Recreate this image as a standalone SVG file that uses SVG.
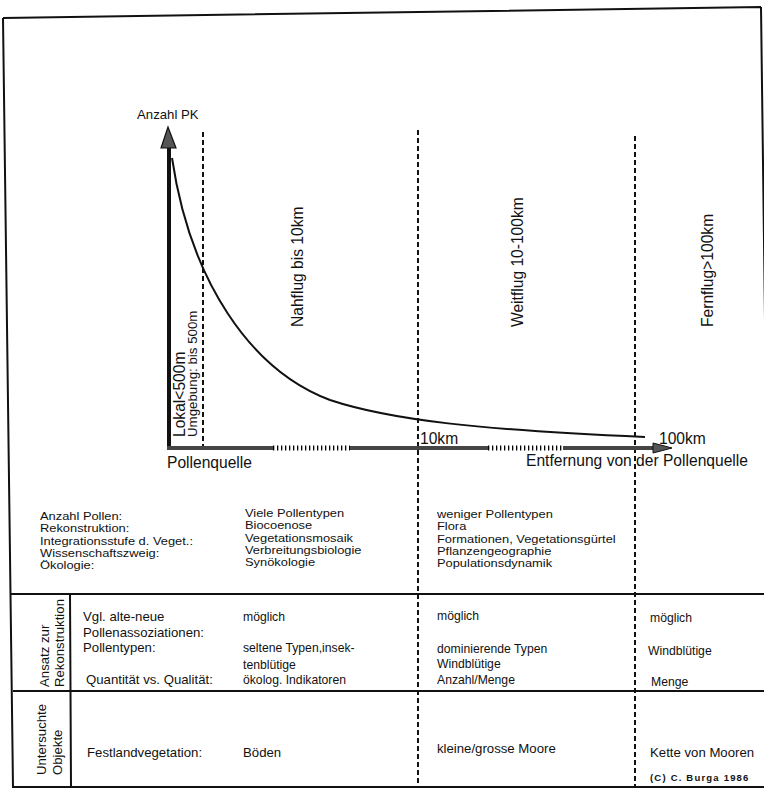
<svg xmlns="http://www.w3.org/2000/svg" width="764" height="789" viewBox="0 0 764 789">
<style>
text{font-family:"Liberation Sans",Arial,sans-serif;fill:#111}
.t{font-size:13.2px}
.m{font-size:12.2px}
.s{font-size:11.2px}
.big{font-size:15.6px}
.frame{stroke:#111;stroke-width:2;fill:none}
.dash{stroke:#111;stroke-width:2;stroke-dasharray:5 3;fill:none}
.axis{stroke:#454545;stroke-width:4;fill:none}
.dots{stroke:#000;stroke-width:5;stroke-dasharray:1.3 2.7;fill:none}
</style>
<rect width="764" height="789" fill="#fff"/>
<g id="frame">
<path class="frame" d="M3,18 L761,7 M3,18 L13,787 L764,787 M761,7 L771,787"/>
<path class="frame" d="M10,594 L764,594 M13,691 L764,691 M70,594 L71,787"/>
</g>
<g id="connectors">
<line class="dash" x1="203" y1="132" x2="203" y2="446"/>
<line class="dash" x1="418" y1="130" x2="418" y2="787"/>
<line class="dash" x1="635" y1="136" x2="635" y2="787"/>
</g>
<g id="axes">
<line x1="169" y1="146" x2="169" y2="450" stroke="#111" stroke-width="4"/>
<polygon points="168,127 161,148 176,148" fill="#555" stroke="#111" stroke-width="1.2"/>
<path class="axis" d="M167,448 L273,448 M350,448 L488,448 M563,448 L654,448"/>
<path class="dots" d="M273,448 L350,448 M488,448 L563,448"/>
<polygon points="672,448 653,443 653,453" fill="#555" stroke="#111" stroke-width="1"/>
</g>
<g id="curve">
<path d="M172,158 C190,280 250,370 330,400 C390,420 480,430 645,437" fill="none" stroke="#111" stroke-width="2"/>
</g>
<g id="chart-labels">
<text class="t" x="137" y="119">Anzahl PK</text>
<text class="big" x="167" y="468">Pollenquelle</text>
<text class="big" x="526" y="466">Entfernung von der Pollenquelle</text>
<text class="big" x="420" y="444">10km</text>
<text class="big" x="659" y="444">100km</text>
<text class="big" transform="translate(303,327) rotate(-90)">Nahflug bis 10km</text>
<text class="big" transform="translate(523,327) rotate(-90)">Weitflug 10-100km</text>
<text class="big" transform="translate(713,327) rotate(-90)">Fernflug&gt;100km</text>
<text class="big" transform="translate(185,437) rotate(-90)">Lokal&lt;500m</text>
<text style="font-size:13.3px" transform="translate(197,437) rotate(-90)">Umgebung: bis 500m</text>
</g>
<g id="row-properties">
<g transform="translate(40 0) scale(1.15 1)">
<text class="s" x="0" y="520">Anzahl Pollen:</text>
<text class="s" x="0" y="532.5">Rekonstruktion:</text>
<text class="s" x="0" y="545">Integrationsstufe d. Veget.:</text>
<text class="s" x="0" y="557">Wissenschaftszweig:</text>
<text class="s" x="0" y="569.5">Ökologie:</text>
</g>
<g transform="translate(245 0) scale(1.15 1)">
<text class="s" x="0" y="517">Viele Pollentypen</text>
<text class="s" x="0" y="529.5">Biocoenose</text>
<text class="s" x="0" y="542">Vegetationsmosaik</text>
<text class="s" x="0" y="554.5">Verbreitungsbiologie</text>
<text class="s" x="0" y="566.5">Synökologie</text>
</g>
<g transform="translate(437 0) scale(1.15 1)">
<text class="s" x="0" y="518">weniger Pollentypen</text>
<text class="s" x="0" y="530.5">Flora</text>
<text class="s" x="0" y="543">Formationen, Vegetationsgürtel</text>
<text class="s" x="0" y="555">Pflanzengeographie</text>
<text class="s" x="0" y="567.5">Populationsdynamik</text>
</g>
</g>
<g id="row-rekonstruktion">
<text class="t" transform="translate(49,687) rotate(-90)">Ansatz zur</text>
<text class="t" transform="translate(64,687) rotate(-90)">Rekonstruktion</text>
<text class="t" x="83" y="621">Vgl. alte-neue</text>
<text class="t" x="83" y="637">Pollenassoziationen:</text>
<text class="t" x="83" y="652">Pollentypen:</text>
<text class="t" x="86" y="684">Quantität vs. Qualität:</text>
<text class="m" x="243" y="621">möglich</text>
<text class="m" x="243" y="652">seltene Typen,insek-</text>
<text class="m" x="243" y="669">tenblütige</text>
<text class="m" x="243" y="684">ökolog. Indikatoren</text>
<text class="m" x="437" y="620">möglich</text>
<text class="m" x="437" y="653">dominierende Typen</text>
<text class="m" x="437" y="668">Windblütige</text>
<text class="m" x="437" y="684">Anzahl/Menge</text>
<text class="m" x="650" y="622">möglich</text>
<text class="m" x="648" y="655">Windblütige</text>
<text class="m" x="651" y="686">Menge</text>
</g>
<g id="row-objekte">
<text class="t" transform="translate(46,775) rotate(-90)">Untersuchte</text>
<text class="t" transform="translate(62,775) rotate(-90)">Objekte</text>
<text class="t" x="87" y="757">Festlandvegetation:</text>
<text class="t" x="243" y="757">Böden</text>
<text class="t" x="437" y="753">kleine/grosse Moore</text>
<text class="t" x="650" y="757">Kette von Mooren</text>
<text x="650" y="781" style="font-size:9.5px;font-weight:bold;letter-spacing:1.2px">(C) C. Burga 1986</text>
</g>
</svg>
